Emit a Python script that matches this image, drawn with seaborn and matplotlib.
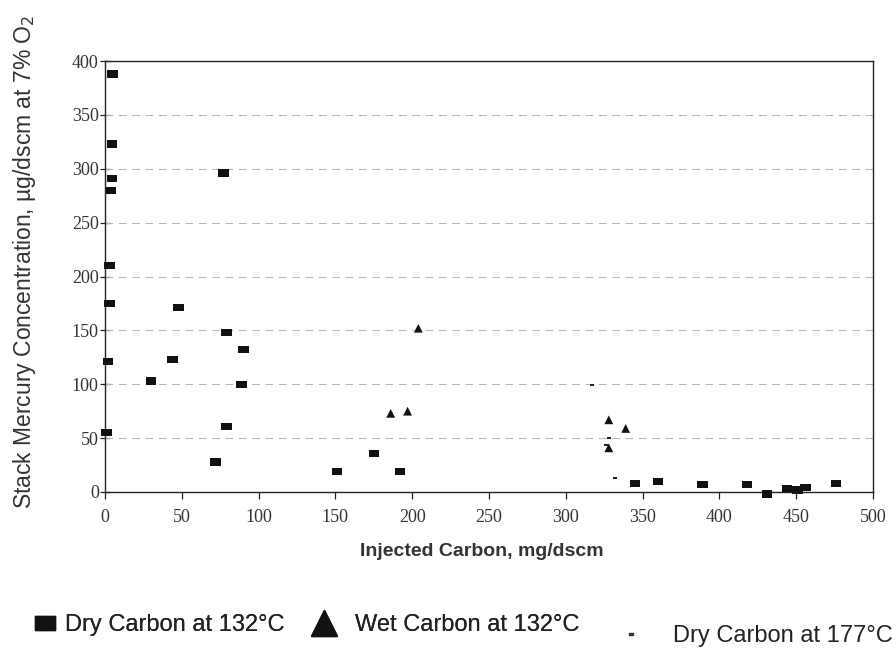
import matplotlib
matplotlib.use("Agg")
import matplotlib.pyplot as plt
from matplotlib.path import Path
from matplotlib.lines import Line2D
import seaborn as sns
import pandas as pd

# Dry carbon injected at 132 °C
dry132_x = [5, 4.5, 4.5, 4, 3, 3, 2, 1, 77, 48, 79, 90, 44, 30, 89, 79, 72,
            151, 175, 192, 345, 360, 389, 418, 431, 444, 451, 456, 476]
dry132_y = [388, 323, 291, 280, 210, 175, 121, 55, 296, 171, 148, 132, 123, 103, 100, 61, 28,
            19, 36, 19, 8, 10, 7, 7, -2, 3, 2, 4, 8]

# Wet carbon injected at 132 °C
wet132_x = [186, 197, 204, 328, 339, 328]
wet132_y = [73, 75, 152, 67, 59, 41]

# Dry carbon injected at 177 °C
dry177_x = [317, 328, 332, 326]
dry177_y = [99, 50, 13, 44]

x_ticks = [0, 50, 100, 150, 200, 250, 300, 350, 400, 450, 500]
y_ticks = [0, 50, 100, 150, 200, 250, 300, 350, 400]

sns.set_theme(style="white")
plt.rcParams["font.family"] = ["Liberation Sans", "DejaVu Sans"]

fig = plt.figure(figsize=(8.96, 6.52), dpi=100)
ax = fig.add_axes([0.1172, 0.2454, 0.8571, 0.661])

rect = Path([(-1, -0.7), (1, -0.7), (1, 0.7), (-1, 0.7), (-1, -0.7)],
            [Path.MOVETO, Path.LINETO, Path.LINETO, Path.LINETO, Path.CLOSEPOLY])
dash = Path([(-1, -0.45), (1, -0.45), (1, 0.45), (-1, 0.45), (-1, -0.45)],
            [Path.MOVETO, Path.LINETO, Path.LINETO, Path.LINETO, Path.CLOSEPOLY])

d1 = pd.DataFrame({"x": dry132_x, "y": dry132_y})
d2 = pd.DataFrame({"x": wet132_x, "y": wet132_y})
d3 = pd.DataFrame({"x": dry177_x, "y": dry177_y})

sns.scatterplot(data=d1, x="x", y="y", marker=rect, s=58, color="#111111",
                edgecolor="none", ax=ax, zorder=3, clip_on=False)
sns.scatterplot(data=d2, x="x", y="y", marker="^", s=40, color="#111111",
                edgecolor="none", ax=ax, zorder=3)
sns.scatterplot(data=d3, x="x", y="y", marker=dash, s=10, color="#222222",
                edgecolor="none", ax=ax, zorder=3)

ax.set_xlim(0, 500)
ax.set_ylim(0, 400)
ax.set_xticks(x_ticks)
ax.set_yticks(y_ticks)
for t in y_ticks[1:-1]:
    ax.axhline(t, color="#b8b8b8", lw=0.8, ls=(0, (7, 5)), zorder=1)

for s in ax.spines.values():
    s.set_visible(True)
    s.set_color("#222222")
    s.set_linewidth(1.0)

ax.tick_params(axis="x", direction="out", length=5, width=0.9, color="#222222",
               bottom=True, labelsize=13, labelcolor="#333333", pad=7)
ax.tick_params(axis="y", direction="inout", length=7, width=0.9, color="#222222",
               left=True, labelsize=13, labelcolor="#333333", pad=1)
for lab in ax.get_xticklabels() + ax.get_yticklabels():
    lab.set_family("Liberation Serif")

ax.set_xlabel("Injected Carbon, mg/dscm", fontsize=14, fontweight="bold",
              color="#333333")
ax.xaxis.set_label_coords(0.491, -0.118)
ax.set_ylabel("Stack Mercury Concentration, \u00b5g/dscm at 7% O$_2$", fontsize=16.5,
              color="#333333")
ax.yaxis.set_label_coords(-0.087, 0.534)

leg_kw = dict(frameon=False, fontsize=17, borderpad=0, borderaxespad=0,
              labelcolor="#222222")
h1 = Line2D([], [], marker=rect, ls="none", color="#111111", markersize=14.5)
h2 = Line2D([], [], marker="^", ls="none", color="#111111", markersize=19)
h3 = Line2D([], [], marker=dash, ls="none", color="#333333", markersize=3)
leg1 = fig.legend([h1], ["Dry Carbon at 132\u00b0C"], loc="center left",
                  bbox_to_anchor=(0.039, 0.0414), handlelength=0.85,
                  handletextpad=0.42, **leg_kw)
leg2 = fig.legend([h2], ["Wet Carbon at 132\u00b0C"], loc="center left",
                  bbox_to_anchor=(0.346, 0.0414), handlelength=1.2,
                  handletextpad=0.72, **leg_kw)
leg3 = fig.legend([h3], ["Dry Carbon at 177\u00b0C"], loc="center left",
                  bbox_to_anchor=(0.699, 0.0245), handlelength=0.4,
                  handletextpad=1.57, **leg_kw)
fig.add_artist(leg1)
fig.add_artist(leg2)

fig.savefig("out.png", dpi=100)
